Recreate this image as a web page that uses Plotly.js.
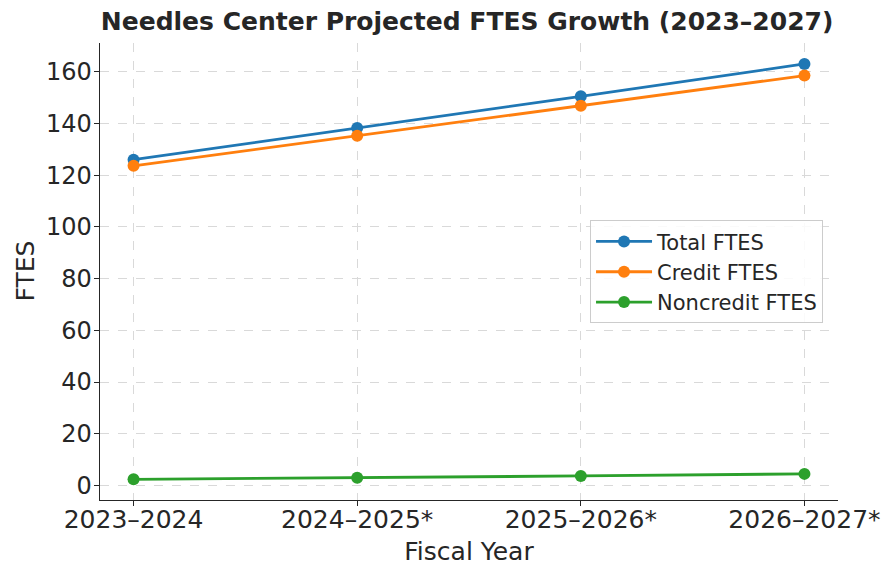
<!DOCTYPE html>
<html>
<head>
<meta charset="utf-8">
<script src="https://cdn.plot.ly/plotly-3.0.1.min.js"></script>
<style>html,body{margin:0;padding:0;background:#fff;}#chart{width:888px;height:568px;}</style>
</head>
<body>
<div id="chart"></div>
<script>
const years = ["2023–2024", "2024–2025*", "2025–2026*", "2026–2027*"];
const totalFTES = [126.0, 138.2, 150.5, 163.0];
const creditFTES = [123.6, 135.2, 146.8, 158.5];
const noncreditFTES = [2.4, 3.0, 3.7, 4.5];

const font = "DejaVu Sans, sans-serif";
function series(name, y, color) {
  return {
    x: years, y: y, name: name, type: "scatter", mode: "lines+markers",
    line: {color: color, width: 2.8},
    marker: {color: color, size: 12}
  };
}
const data = [
  series("Total FTES", totalFTES, "#1f77b4"),
  series("Credit FTES", creditFTES, "#ff7f0e"),
  series("Noncredit FTES", noncreditFTES, "#2ca02c")
];
const layout = {
  width: 888, height: 568,
  margin: {l: 100, r: 50, t: 43, b: 68},
  paper_bgcolor: "#fff", plot_bgcolor: "#fff",
  font: {family: font, color: "#262626"},
  title: {text: "<b>Needles Center Projected FTES Growth (2023–2027)</b>", font: {size: 25, family: font, color: "#262626"}, x: 0.526, xanchor: "center", y: 0.963, yanchor: "middle"},
  xaxis: {
    type: "category", range: [-0.15, 3.15],
    showline: true, linecolor: "#262626", linewidth: 1.4, mirror: false,
    ticks: "outside", ticklen: 5, tickcolor: "#262626",
    ticklabelstandoff: -8,
    tickfont: {size: 25, family: font, color: "#262626"},
    showgrid: true, gridcolor: "#d9d9d9", griddash: "dash", gridwidth: 1,
    zeroline: false,
    title: {text: "Fiscal Year", font: {size: 25, family: font, color: "#262626"}, standoff: 9}
  },
  yaxis: {
    range: [-5.6, 171.1], tickvals: [0,20,40,60,80,100,120,140,160],
    showline: true, linecolor: "#262626", linewidth: 1.4, mirror: false,
    ticks: "outside", ticklen: 5, tickcolor: "#262626",
    ticklabelstandoff: -3,
    tickfont: {size: 24, family: font, color: "#262626"},
    showgrid: true, gridcolor: "#d9d9d9", griddash: "dash", gridwidth: 1,
    zeroline: false
  },
  annotations: [{
    text: "FTES", xref: "paper", yref: "paper", x: -0.1016, y: 0.5,
    xanchor: "center", yanchor: "middle", textangle: -90, showarrow: false,
    font: {size: 25, family: font, color: "#262626"}
  }],
  legend: {
    x: 0.664, y: 0.612, xanchor: "left", yanchor: "top",
    bgcolor: "rgba(255,255,255,0.85)", bordercolor: "#cccccc", borderwidth: 1,
    font: {size: 21, family: font, color: "#262626"},
    itemwidth: 56,
    tracegroupgap: 4
  },
  showlegend: true
};
Plotly.newPlot("chart", data, layout, {displayModeBar: false, staticPlot: true});
</script>
</body>
</html>
